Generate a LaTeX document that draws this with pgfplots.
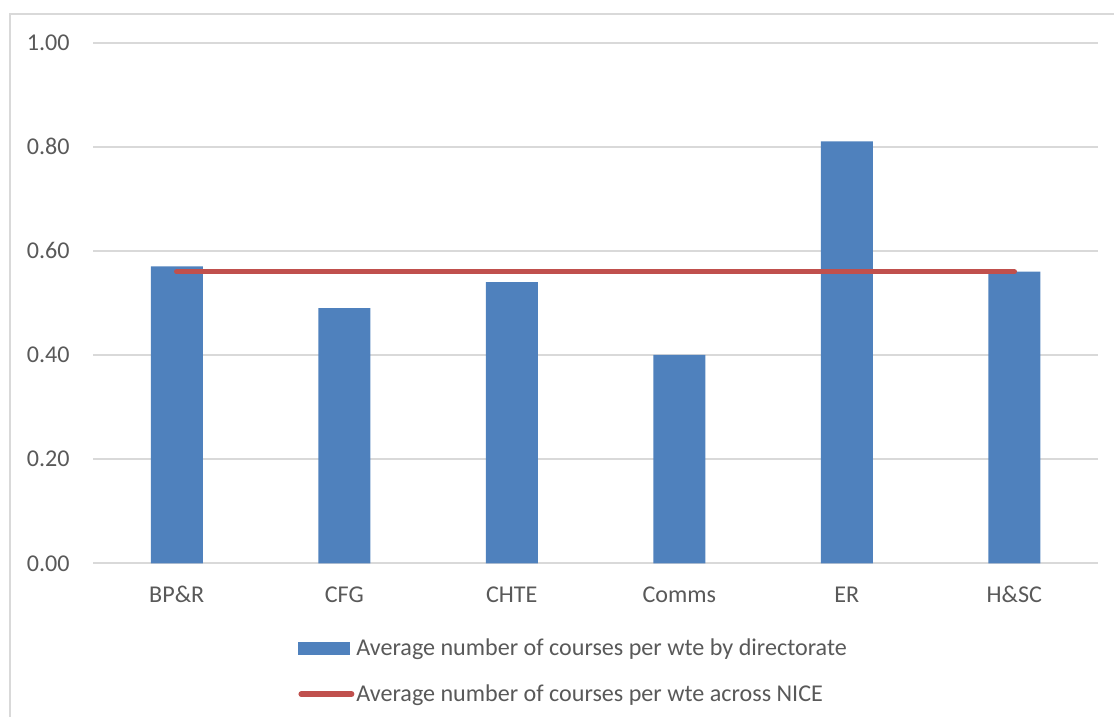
\documentclass[border=0pt]{standalone}
\usepackage{fontspec}
\setmainfont{Carlito}
\usepackage{pgfplots}
\pgfplotsset{compat=1.18}
\definecolor{barblue}{HTML}{4F81BD}
\definecolor{linered}{HTML}{C0504D}
\definecolor{gridgray}{HTML}{D9D9D9}
\definecolor{textgray}{HTML}{595959}
\begin{document}
\begin{tikzpicture}
\path[use as bounding box] (0pt,0pt) rectangle (557pt,-358.5pt);
\draw[gridgray, line width=0.8pt] (5pt,-360pt) -- (5pt,-7pt) -- (560pt,-7pt);
\begin{axis}[
  at={(46.5pt,-281.65pt)}, anchor=south west,
  width=502.5pt, height=260.4pt, scale only axis,
  xmin=-0.5, xmax=5.5, ymin=0, ymax=1,
  ytick={0,0.2,0.4,0.6,0.8,1},
  xtick={0,1,2,3,4,5},
  xticklabels={BP\&R,CFG,CHTE,Comms,ER,H\&SC},
  major tick length=0pt,
  axis line style={draw=none},
  ymajorgrids, grid style={gridgray, line width=1pt},
  tick label style={font=\fontsize{12.05}{14}\selectfont, text=textgray},
  yticklabel style={/pgf/number format/fixed, /pgf/number format/fixed zerofill,
    /pgf/number format/precision=2, /pgf/number format/assume math mode=true},
  yticklabel style={anchor=east, inner sep=0pt, xshift=-11.5pt},
  xticklabel style={anchor=base, inner sep=0pt, yshift=-19.4pt},
  legend style={at={(axis description cs:0.204,-0.14)}, anchor=north west, draw=none, fill=none,
    font=\fontsize{12.05}{14}\selectfont, text=textgray, row sep=11pt, inner sep=0pt,
    nodes={inner sep=1pt}},
  legend cell align=left,
]
\addplot[ybar, bar width=26pt, fill=barblue, draw=none,
  legend image code/.code={\fill[barblue] (0pt,-3.4pt) rectangle (26pt,3.4pt);}]
  coordinates {(0,0.57) (1,0.49) (2,0.54) (3,0.40) (4,0.81) (5,0.56)};
\addlegendentry{Average number of courses per wte by directorate}
\addplot[sharp plot, linered, line width=2.75pt, line cap=round, mark=none,
  legend image code/.code={\draw[linered, line width=2.75pt, line cap=round] (1.4pt,0pt) -- (26.6pt,0pt);}]
  coordinates {(0,0.56) (5,0.56)};
\addlegendentry{Average number of courses per wte across NICE}
\end{axis}
\end{tikzpicture}
\end{document}
